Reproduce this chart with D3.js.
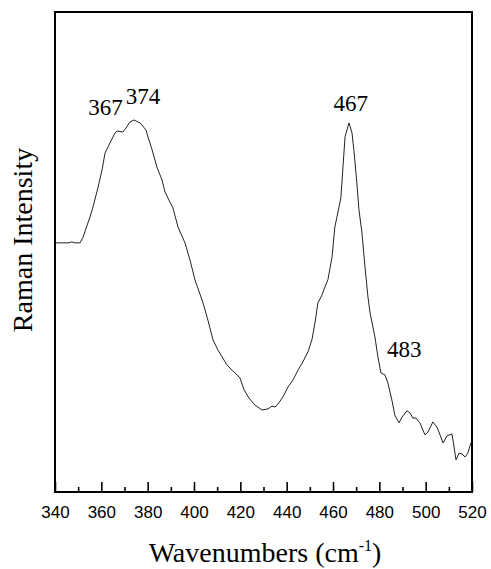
<!DOCTYPE html>
<html lang="en">
<head>
    <meta charset="UTF-8">
    <title>Raman spectrum</title>
    <script src="https://d3js.org/d3.v7.min.js"></script>
    <style>
        body { margin: 0; background: #fff; }
        .tick-label { font-family: "Liberation Sans", Arial, sans-serif; font-size: 17px; }
        .title { font-family: "Liberation Serif", "Times New Roman", serif; font-size: 28px; }
        .peak { font-family: "Liberation Serif", "Times New Roman", serif; font-size: 23px; }
    </style>
</head>
<body>
<svg width="491" height="569"></svg>
<script>
    // spectrum (wavenumber, relative intensity 0-100)
    var wavenumbers = [340.0, 345.6, 347.3, 348.6, 350.8, 352.1, 355.1, 356.4, 358.6, 360.3,
        361.6, 363.7, 365.9, 366.8, 369.3, 370.6, 372.4, 374.1, 376.7, 379.3,
        380.1, 381.9, 384.0, 386.2, 387.5, 389.6, 390.9, 393.1, 396.1, 398.3,
        400.4, 403.9, 406.0, 408.2, 410.3, 414.2, 416.8, 419.8, 421.6, 423.7,
        426.3, 429.3, 431.9, 433.7, 435.0, 436.2, 438.4, 440.6, 442.7, 444.9,
        447.0, 449.2, 450.9, 452.2, 453.5, 455.2, 456.5, 457.8, 459.6, 460.8,
        461.7, 463.4, 464.3, 465.2, 466.9, 468.2, 469.0, 470.3, 471.2, 472.5,
        473.8, 475.1, 476.0, 478.1, 479.4, 480.7, 482.4, 483.7, 485.4, 486.7,
        488.5, 489.8, 491.9, 493.2, 494.5, 495.8, 497.5, 499.7, 501.0, 503.1,
        504.9, 506.2, 507.5, 509.2, 511.3, 511.8, 513.1, 514.4, 515.7, 517.0,
        518.2, 519.5];
    var intensity = [51.9, 51.9, 52.1, 51.9, 51.9, 53.1, 57.3, 59.4, 63.5, 67.1,
        70.6, 72.7, 74.8, 75.2, 75.0, 75.8, 77.1, 77.5, 76.9, 75.4,
        74.0, 71.3, 67.7, 65.0, 62.5, 60.4, 59.2, 55.2, 51.9, 48.3,
        44.2, 39.4, 35.8, 31.7, 29.6, 26.5, 25.2, 23.8, 21.3, 19.6,
        18.1, 17.1, 17.3, 17.9, 17.7, 18.3, 19.8, 21.9, 23.3, 25.4,
        27.1, 29.2, 31.7, 35.2, 39.4, 41.0, 42.7, 44.2, 49.0, 55.2,
        57.3, 61.3, 67.7, 74.0, 76.9, 74.8, 71.3, 64.4, 58.8, 54.0,
        46.9, 40.6, 37.3, 32.3, 28.1, 24.8, 24.4, 22.7, 19.2, 16.0,
        14.4, 15.6, 16.9, 16.5, 15.4, 15.4, 14.4, 11.9, 12.5, 14.6,
        13.5, 11.9, 10.2, 11.7, 12.1, 10.8, 6.7, 8.1, 7.9, 7.3,
        8.1, 10.2];

    var xTicks = [340, 360, 380, 400, 420, 440, 460, 480, 500, 520];
    var xMinorTicks = [350, 370, 390, 410, 430, 450, 470, 490, 510];

    // peak labels: text, wavenumber, intensity where the label sits
    var peakLabels = ["367", "374", "467", "483"];
    var peakX = [361.8, 378.0, 467.7, 490.8];
    var peakY = [78.5, 80.8, 79.4, 28.1];

    var margin = {top: 12, right: 19, bottom: 77, left: 55};
    var svg = d3.select("svg");
    var width = 491 - margin.left - margin.right;
    var height = 569 - margin.top - margin.bottom;

    var x = d3.scaleLinear().domain([340, 520]).range([0, width]);
    var y = d3.scaleLinear().domain([0, 100]).range([height, 0]);

    var g = svg.append("g")
        .attr("transform", "translate(" + margin.left + "," + margin.top + ")");

    // frame
    g.append("rect")
        .attr("x", 0).attr("y", 0)
        .attr("width", width).attr("height", height)
        .attr("fill", "none")
        .attr("stroke", "#000")
        .attr("stroke-width", 2);

    // ticks point inward
    var xAxis = g.append("g")
        .attr("transform", "translate(0," + height + ")")
        .call(d3.axisBottom(x).tickValues(xTicks).tickSize(-10).tickPadding(14));
    xAxis.select(".domain").remove();
    xAxis.attr("font-size", null).attr("font-family", null);
    xAxis.selectAll(".tick line").attr("stroke-width", 1.6);
    xAxis.selectAll(".tick text")
        .attr("class", "tick-label")
        .attr("fill", "#000");

    var minor = g.append("g")
        .attr("transform", "translate(0," + height + ")")
        .call(d3.axisBottom(x).tickValues(xMinorTicks).tickSize(-5).tickFormat(""));
    minor.select(".domain").remove();
    minor.selectAll(".tick line").attr("stroke-width", 1.6);

    // spectrum
    var points = wavenumbers.map(function (w, i) { return [w, intensity[i]]; });
    var line = d3.line()
        .x(function (d) { return x(d[0]); })
        .y(function (d) { return y(d[1]); });

    g.append("path")
        .datum(points)
        .attr("fill", "none")
        .attr("stroke", "#222")
        .attr("stroke-width", 1)
        .attr("d", line);

    // peak annotations
    g.selectAll(".peak")
        .data(peakLabels)
        .enter()
        .append("text")
        .attr("class", "peak")
        .attr("text-anchor", "middle")
        .attr("x", function (d, i) { return x(peakX[i]); })
        .attr("y", function (d, i) { return y(peakY[i]); })
        .text(function (d) { return d; });

    // axis titles
    var xt = svg.append("text")
        .attr("class", "title")
        .attr("text-anchor", "middle")
        .attr("x", 265)
        .attr("y", 562);
    xt.append("tspan").text("Wavenumbers (cm");
    xt.append("tspan").attr("dy", -11).style("font-size", "16px").text("-1");
    xt.append("tspan").attr("dy", 11).text(")");

    svg.append("text")
        .attr("class", "title")
        .attr("text-anchor", "middle")
        .attr("transform", "translate(32,240) rotate(-90)")
        .text("Raman Intensity");
</script>
</body>
</html>
